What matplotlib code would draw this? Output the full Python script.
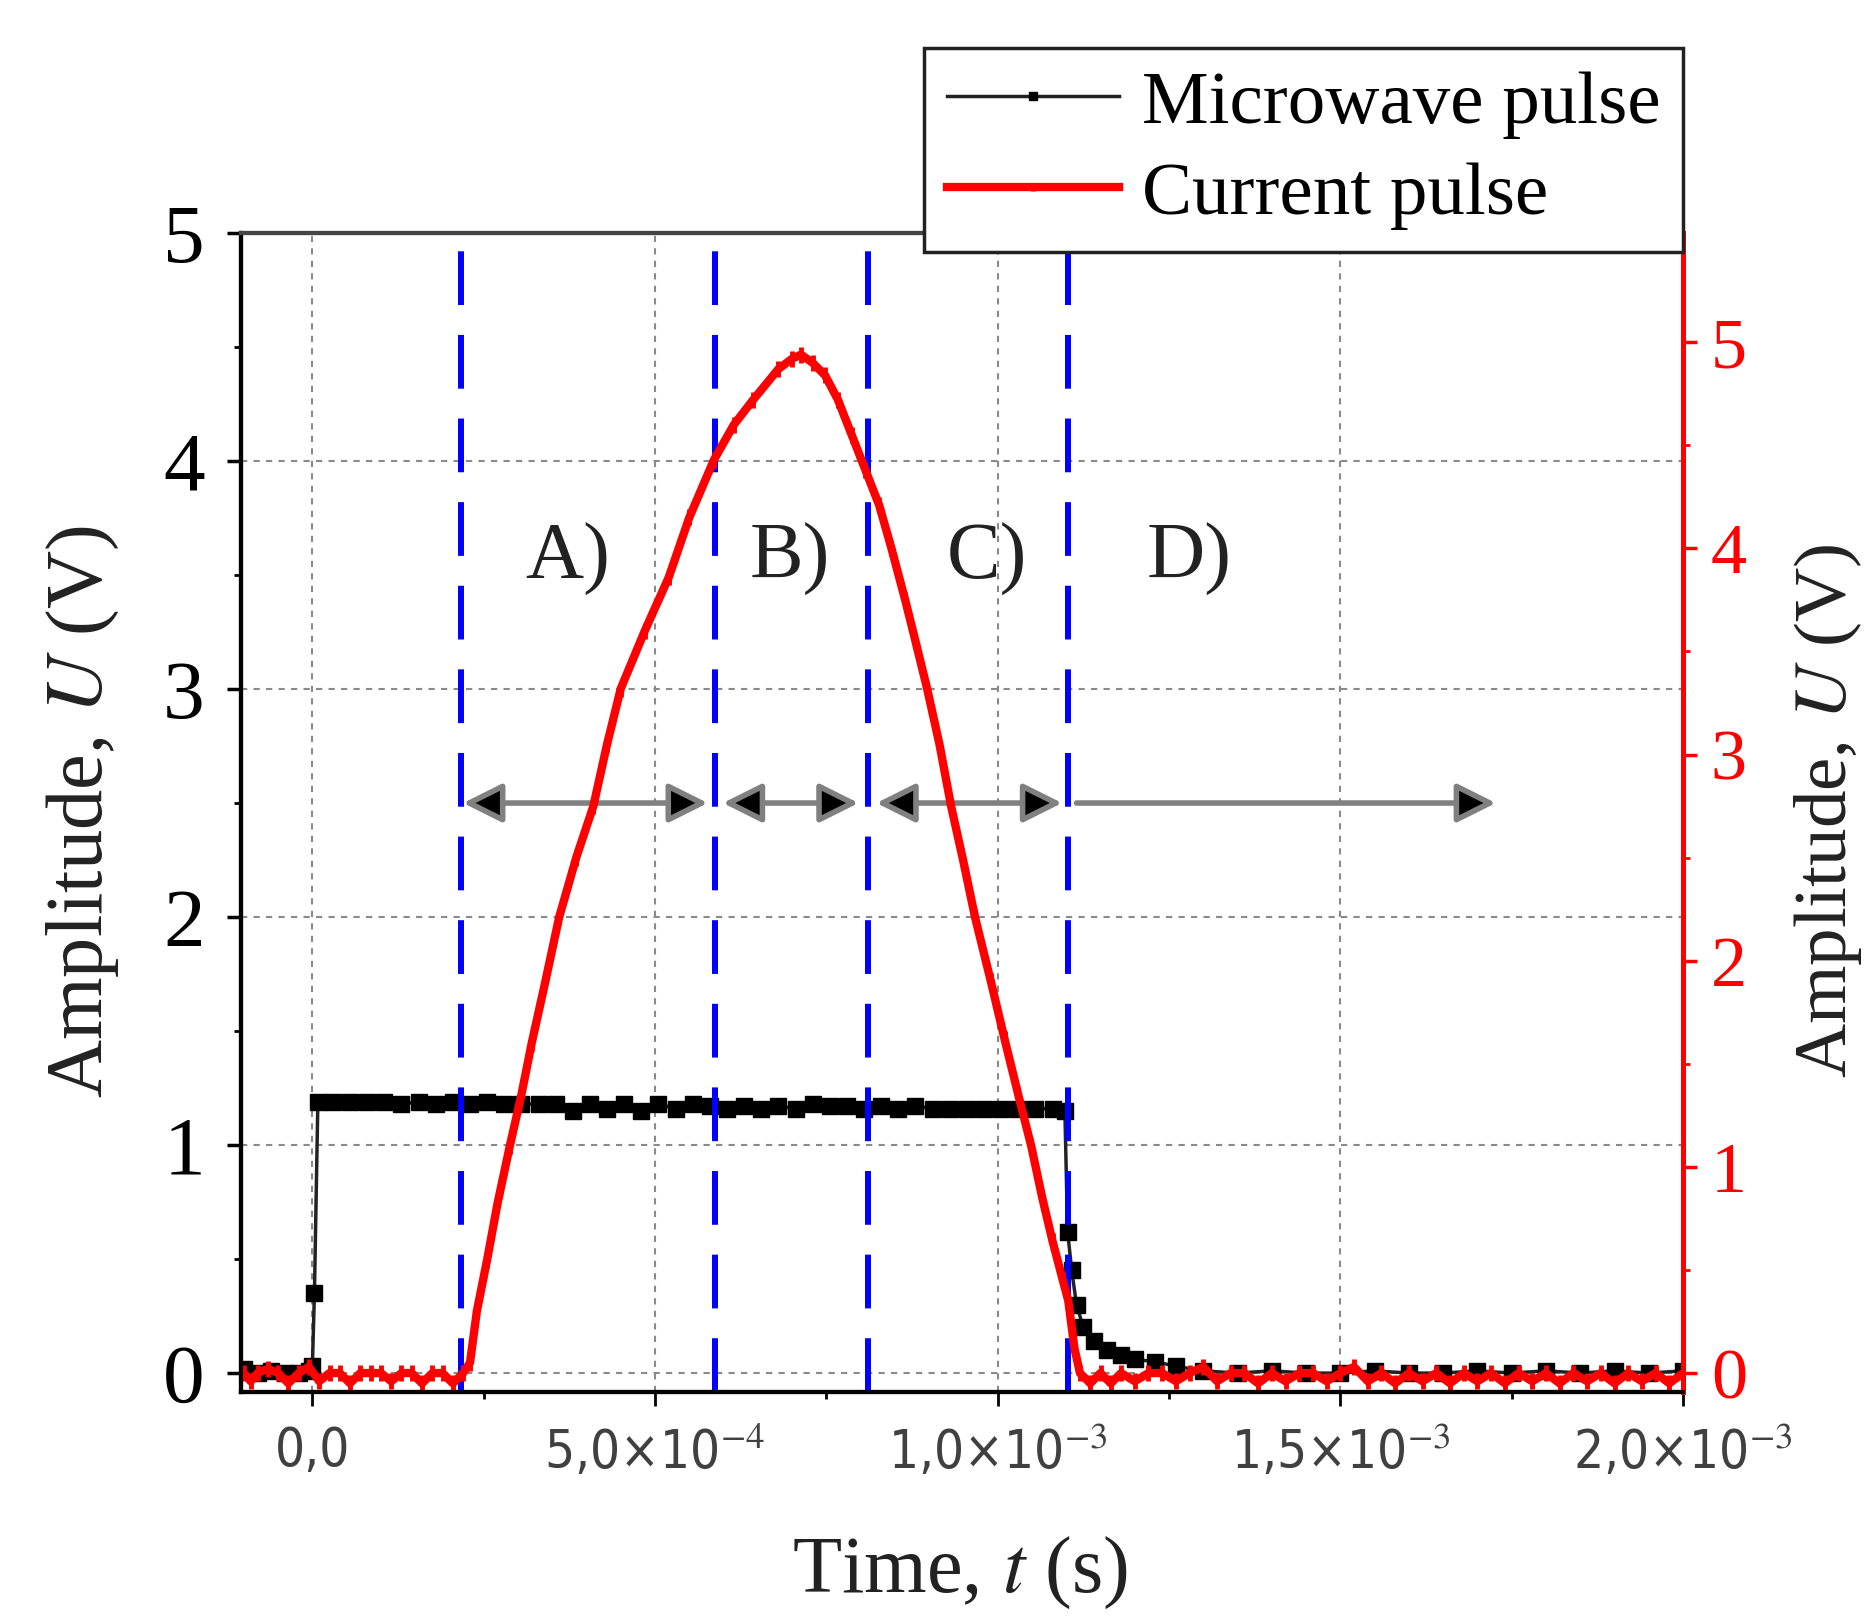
import numpy as np
import matplotlib
matplotlib.use("Agg")
from matplotlib import pyplot as plt

plt.rcParams['font.family'] = ['Liberation Serif', 'DejaVu Serif']
plt.rcParams['mathtext.fontset'] = 'stix'

# microwave pulse, time in units of 1e-4 s, amplitude (left axis, V)
t_mw = [-1.0, -0.8, -0.6, -0.4, -0.2, -0.05, 0.0, 0.03, 0.08, 0.3, 0.55, 0.8, 1.05, 1.3,
        1.55, 1.8, 2.05, 2.3, 2.55, 2.8, 3.05, 3.3, 3.55, 3.8, 4.05, 4.3, 4.55, 4.8, 5.05,
        5.3, 5.55, 5.8, 6.05, 6.3, 6.55, 6.8, 7.05, 7.3, 7.55, 7.8, 8.05, 8.3, 8.55, 8.8,
        9.05, 9.3, 9.55, 9.8, 10.05, 10.3, 10.55, 10.8, 10.98, 11.02, 11.08, 11.15, 11.25,
        11.4, 11.6, 11.8, 12.0, 12.3, 12.6, 13.0, 13.5, 14.0, 14.5, 15.0, 15.5, 16.0, 16.5,
        17.0, 17.5, 18.0, 18.5, 19.0, 19.5, 20.0]
u_mw = [0.02, 0.0, 0.01, 0.0, 0.0, 0.01, 0.03, 0.35, 1.19, 1.19, 1.19, 1.19, 1.19, 1.18,
        1.19, 1.18, 1.19, 1.18, 1.19, 1.18, 1.18, 1.18, 1.18, 1.15, 1.18, 1.16, 1.18, 1.15, 1.18,
        1.16, 1.18, 1.17, 1.16, 1.17, 1.16, 1.17, 1.16, 1.18, 1.17, 1.17, 1.16, 1.17, 1.16, 1.17,
        1.16, 1.16, 1.16, 1.16, 1.16, 1.16, 1.16, 1.16, 1.15, 0.62, 0.45, 0.3, 0.2,
        0.14, 0.1, 0.08, 0.06, 0.05, 0.03, 0.01, 0.0, 0.01, 0.0, 0.0, 0.01, 0.0, 0.0,
        0.01, 0.0, 0.01, 0.0, 0.01, 0.0, 0.01]

# current pulse, time in units of 1e-4 s, amplitude (right axis, V)
t_cur = [-1.0, -0.9, -0.8, -0.65, -0.5, -0.35, -0.2, -0.05, 0.1, 0.25, 0.4, 0.55, 0.7, 0.85,
         1.0, 1.15, 1.3, 1.45, 1.6, 1.75, 1.9, 2.05, 2.2, 2.3, 2.4, 2.55, 2.7, 2.88, 3.05,
         3.2, 3.4, 3.6, 3.85, 4.1, 4.3, 4.5, 4.85, 5.2, 5.5, 5.86, 6.15, 6.43, 6.8, 7.0,
         7.13, 7.3, 7.48, 7.67, 7.87, 8.07, 8.27, 8.45, 8.65, 8.8, 8.97, 9.15, 9.32, 9.5,
         9.67, 9.9, 10.1, 10.3, 10.49, 10.65, 10.8, 10.95, 11.03, 11.12, 11.2, 11.35, 11.5,
         11.65, 11.8, 12.0, 12.2, 12.4, 12.6, 12.8, 13.0, 13.2, 13.4, 13.6, 13.8, 14.0, 14.2,
         14.4, 14.6, 14.8, 15.0, 15.2, 15.4, 15.6, 15.8, 16.0, 16.2, 16.4, 16.6, 16.8, 17.0,
         17.2, 17.4, 17.6, 17.8, 18.0, 18.2, 18.4, 18.6, 18.8, 19.0, 19.2, 19.4, 19.6, 19.8, 20.0]
u_cur = [0.0, -0.04, 0.0, 0.02, 0.0, -0.05, 0.0, 0.03, -0.04, 0.0, 0.0, -0.05, 0.0, 0.0,
         0.0, -0.04, 0.0, 0.0, -0.05, 0.0, 0.0, -0.05, 0.0, 0.05, 0.3, 0.55, 0.82, 1.1, 1.35,
         1.6, 1.9, 2.21, 2.5, 2.75, 3.05, 3.32, 3.6, 3.86, 4.15, 4.43, 4.6, 4.72, 4.87, 4.92,
         4.94, 4.9, 4.84, 4.72, 4.55, 4.38, 4.21, 4.0, 3.75, 3.55, 3.32, 3.05, 2.75, 2.48,
         2.21, 1.9, 1.62, 1.35, 1.1, 0.85, 0.64, 0.45, 0.35, 0.12, 0.0, -0.05, 0.0,
         -0.05, 0.0, -0.04, 0.0, 0.0, -0.04, 0.0, 0.03, -0.04, 0.0, 0.0, -0.05, 0.0, -0.04,
         0.0, 0.0, -0.04, 0.0, 0.03, -0.04, 0.0, -0.05, 0.0, -0.04, 0.0, -0.05, 0.0, -0.04,
         0.0, -0.05, 0.0, -0.04, 0.0, -0.05, 0.0, -0.04, 0.0, -0.05, 0.0, -0.04, 0.0, -0.05, 0.0]

# region boundaries (blue dashed lines), s
bounds = [2.17e-4, 5.87e-4, 8.11e-4, 1.103e-3]
# arrows at U = 2.5 V: (start, end, style)
arrows = [(2.2e-4, 5.77e-4, '<|-|>'), (5.99e-4, 7.97e-4, '<|-|>'),
          (8.23e-4, 1.094e-3, '<|-|>'), (1.115e-3, 1.727e-3, '-|>')]
regions = ['A)', 'B)', 'C)', 'D)']
region_x = [3.72e-4, 6.96e-4, 9.84e-4, 1.28e-3]

xticks = [0, 5e-4, 1e-3, 1.5e-3, 2e-3]
xticklabels = ['0,0', '5,0×10$^{-4}$', '1,0×10$^{-3}$', '1,5×10$^{-3}$', '2,0×10$^{-3}$']

t_mw = np.array(t_mw) * 1e-4
t_cur = np.array(t_cur) * 1e-4

fig = plt.figure(figsize=(18.69, 16.19), dpi=100)
ax = fig.add_axes([0.129, 0.1402, 0.7715, 0.7159])
ax2 = ax.twinx()

l1, = ax.plot(t_mw, u_mw, color='#222222', lw=2.5, marker='s', ms=12, mec='black', mfc='black',
              label='Microwave pulse', zorder=3)
for b in bounds:
    ax.axvline(b, color='#0000ff', lw=4.3, ls=(0, (9, 5)), zorder=4)
for x0, x1, st in arrows:
    ax.annotate('', xy=(x1, 2.5), xytext=(x0, 2.5),
                arrowprops=dict(arrowstyle=st, mutation_scale=60, fc='black', ec='#808080',
                                lw=4, shrinkA=0, shrinkB=0), zorder=5)
for lab, xr in zip(regions, region_x):
    ax.text(xr, 3.57, lab, fontsize=58, ha='center', va='center', color='#222222')

l2, = ax2.plot(t_cur, u_cur, color='#ff0000', lw=6, marker='|', ms=12, mew=3.5,
               label='Current pulse')

ax.set_xlim(-1.04e-4, 2.0e-3)
ax.set_ylim(-0.083, 5.0)
ax2.set_ylim(-0.092, 5.53)

ax.set_xticks(xticks)
ax.set_xticklabels(xticklabels, family=['DejaVu Sans'], stretch='condensed',
                   fontsize=38, color='#404040')
ax.set_xticks([2.5e-4, 7.5e-4, 1.25e-3, 1.75e-3], minor=True)
ax.set_yticks([0, 1, 2, 3, 4, 5])
ax.set_yticks([0.5, 1.5, 2.5, 3.5, 4.5], minor=True)
ax2.set_yticks([0, 1, 2, 3, 4, 5])
ax2.set_yticks([0.5, 1.5, 2.5, 3.5, 4.5], minor=True)

ax.tick_params(axis='y', which='major', labelsize=60, length=10, width=2.5, pad=16, colors='black')
ax.tick_params(axis='y', which='minor', length=5, width=2)
ax.tick_params(axis='x', which='major', length=10, width=2, pad=14)
ax.tick_params(axis='x', which='minor', length=5, width=2)
ax.tick_params(right=False, top=False)
ax2.tick_params(axis='y', which='major', labelsize=52, length=10, width=2.5, pad=10,
                colors='#ff0000')
ax2.tick_params(axis='y', which='minor', length=5, width=2, colors='#ff0000')

ax.grid(True, which='major', color='#8a8a8a', lw=1.5, ls=(0, (3, 3)))
ax.set_axisbelow(True)

for a in (ax, ax2):
    a.spines['left'].set_linewidth(3)
    a.spines['bottom'].set_linewidth(3)
    a.spines['top'].set_linewidth(3)
    a.spines['top'].set_color('#444444')
    a.spines['right'].set_linewidth(3.5)
    a.spines['right'].set_color('#ff0000')

fig.text(83 / 1869, 1 - 811 / 1619, 'Amplitude, $U$ (V)', rotation=90, ha='center', va='center',
         fontsize=58, color='#222222')
fig.text(1828 / 1869, 1 - 811 / 1619, 'Amplitude, $U$ (V)', rotation=90, ha='center', va='center',
         fontsize=54, color='#222222')
fig.text(960 / 1869, 1 - 1573 / 1619, 'Time, $t$ (s)', ha='center', va='center',
         fontsize=58, color='#222222')

leg = ax2.legend(handles=[l1, l2], loc='upper right', bbox_to_anchor=(1.0, 1.16),
                 borderaxespad=0, fontsize=54, frameon=True, fancybox=False, framealpha=1,
                 edgecolor='#222222', handlelength=2.3, handletextpad=0.3, labelspacing=0.3,
                 borderpad=0.3, markerscale=0.5)
leg.get_frame().set_linewidth(2.5)

fig.savefig('out.png', dpi=100)
